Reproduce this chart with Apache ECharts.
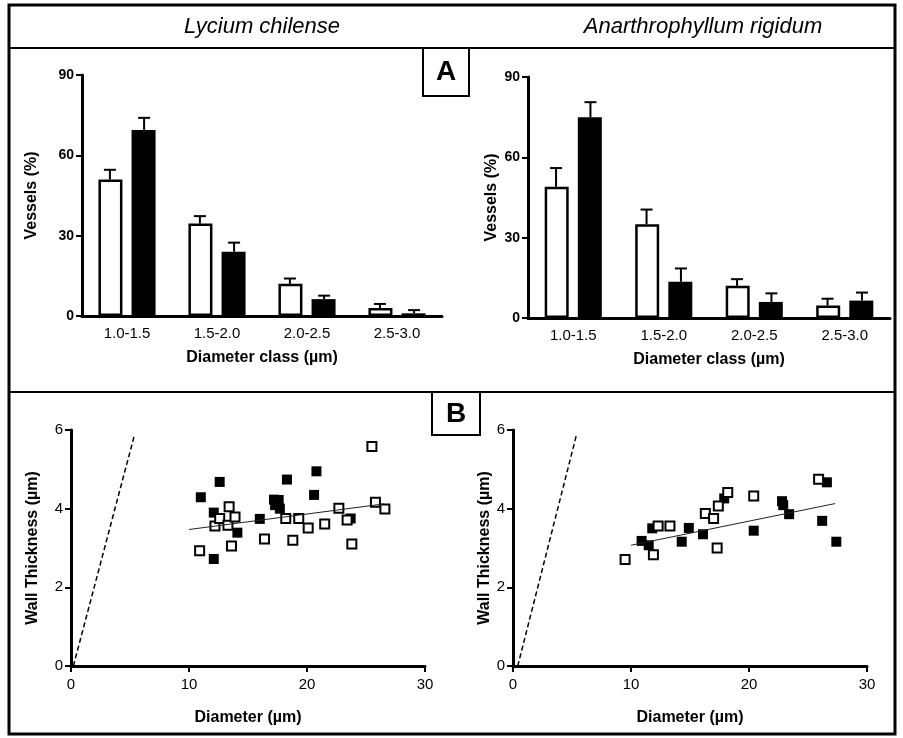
<!DOCTYPE html>
<html>
<head>
<meta charset="utf-8">
<script src="https://cdn.jsdelivr.net/npm/echarts@6/dist/echarts.min.js"></script>
<style>
  html, body { margin: 0; padding: 0; background: #fff; }
  #chart { width: 903px; height: 738px; }
</style>
</head>
<body>
<div id="chart"></div>
<script>
// diameter classes (um)
var classes = ['1.0-1.5', '1.5-2.0', '2.0-2.5', '2.5-3.0'];

// A: vessels (%) per class, open = white bars, filled = black bars
var lyciumOpen = [51, 34.5, 12, 3];
var lyciumOpenErr = [3.6, 2.8, 2.0, 1.5];
var lyciumFilled = [69.5, 24, 6.3, 1];
var lyciumFilledErr = [4.5, 3.4, 1.3, 1.2];

var anarOpen = [49, 35, 12, 4.7];
var anarOpenErr = [7, 5.5, 2.5, 2.5];
var anarFilled = [75, 13.5, 6, 6.5];
var anarFilledErr = [5.6, 5, 3.2, 3];

// B: wall thickness vs diameter
var lyciumOpenPts = [
  [10.9, 2.93], [12.2, 3.56], [12.6, 3.75], [13.3, 3.58], [13.4, 4.05],
  [13.9, 3.79], [13.6, 3.05], [16.4, 3.23], [18.2, 3.75], [18.8, 3.2],
  [19.3, 3.75], [20.1, 3.51], [21.5, 3.61], [22.7, 4.01], [23.4, 3.71],
  [23.8, 3.1], [25.5, 5.58], [25.8, 4.16], [26.6, 3.99]
];
var lyciumFilledPts = [
  [11.0, 4.29], [12.6, 4.68], [12.1, 3.9], [12.1, 2.72], [14.1, 3.39],
  [16.0, 3.74], [17.2, 4.23], [17.6, 4.22], [17.3, 4.09], [17.7, 4.0],
  [18.3, 4.74], [20.8, 4.95], [20.6, 4.35], [23.7, 3.75]
];
var anarOpenPts = [
  [9.5, 2.71], [11.9, 2.83], [12.3, 3.56], [13.3, 3.56], [16.3, 3.88],
  [17.0, 3.75], [17.3, 3.0], [17.4, 4.07], [18.2, 4.41], [20.4, 4.32],
  [25.9, 4.75]
];
var anarFilledPts = [
  [10.9, 3.18], [11.8, 3.5], [11.5, 3.07], [14.3, 3.16], [14.9, 3.51],
  [16.1, 3.35], [17.9, 4.26], [20.4, 3.44], [22.8, 4.19], [22.9, 4.09],
  [23.4, 3.86], [26.6, 4.67], [26.2, 3.69], [27.4, 3.16]
];

// reference (dashed) lines and fitted lines
var lyciumDash = [[0.2, 0], [5.4, 5.9]];
var lyciumFit = [[10, 3.47], [26.5, 4.12]];
var anarDash = [[0.4, 0], [5.4, 5.9]];
var anarFit = [[10, 3.07], [27.3, 4.13]];

var FONT = '"Liberation Sans", Arial, sans-serif';

function withErr(vals, errs) {
  return vals.map(function (v, i) { return [i, v + errs[i], v]; });
}

function errRender(shift) {
  return function (params, api) {
    var i = api.value(0);
    var top = api.coord([i, api.value(1)]);
    var base = api.coord([i, api.value(2)]);
    var bw = api.size([1, 0])[0];
    var x = top[0] + shift * bw;
    var st = { stroke: '#000', lineWidth: 2 };
    return {
      type: 'group',
      children: [
        { type: 'line', shape: { x1: x, y1: base[1], x2: x, y2: top[1] }, style: st },
        { type: 'line', shape: { x1: x - 6, y1: top[1], x2: x + 6, y2: top[1] }, style: st }
      ]
    };
  };
}

var tickStyle = { show: true, inside: false, length: 6, lineStyle: { color: '#000', width: 2 } };

function barXAxis(idx, gap) {
  return {
    type: 'category', gridIndex: idx, data: classes,
    axisLine: { show: true, lineStyle: { color: '#000', width: 3 } },
    axisTick: { show: false },
    axisLabel: { color: '#000', fontFamily: FONT, fontSize: 15, margin: 10 },
    name: 'Diameter class (\u00b5m)', nameLocation: 'middle', nameGap: gap,
    nameTextStyle: { color: '#000', fontFamily: FONT, fontSize: 16, fontWeight: 'bold' }
  };
}
function barYAxis(idx, gap) {
  return {
    type: 'value', gridIndex: idx, min: 0, max: 90, interval: 30,
    splitLine: { show: false },
    axisLine: { show: true, lineStyle: { color: '#000', width: 3 } },
    axisTick: tickStyle,
    axisLabel: { color: '#000', fontFamily: FONT, fontSize: 14, fontWeight: 'bold', margin: 8 },
    name: 'Vessels (%)', nameLocation: 'middle', nameGap: gap,
    nameTextStyle: { color: '#000', fontFamily: FONT, fontSize: 16, fontWeight: 'bold' }
  };
}
function scXAxis(idx) {
  return {
    type: 'value', gridIndex: idx, min: 0, max: 30, interval: 10,
    splitLine: { show: false },
    axisLine: { show: true, onZero: false, lineStyle: { color: '#000', width: 3 } },
    axisTick: tickStyle,
    axisLabel: { color: '#000', fontFamily: FONT, fontSize: 15, margin: 11 },
    name: 'Diameter (\u00b5m)', nameLocation: 'middle', nameGap: 44,
    nameTextStyle: { color: '#000', fontFamily: FONT, fontSize: 16, fontWeight: 'bold' }
  };
}
function scYAxis(idx, gap) {
  return {
    type: 'value', gridIndex: idx, min: 0, max: 6, interval: 2,
    splitLine: { show: false },
    axisLine: { show: true, onZero: false, lineStyle: { color: '#000', width: 3 } },
    axisTick: tickStyle,
    axisLabel: { color: '#000', fontFamily: FONT, fontSize: 15, margin: 8 },
    name: 'Wall Thickness (\u00b5m)', nameLocation: 'middle', nameGap: gap,
    nameTextStyle: { color: '#000', fontFamily: FONT, fontSize: 16, fontWeight: 'bold' }
  };
}

function bars(idx, openVals, filledVals) {
  return [
    {
      type: 'bar', xAxisIndex: idx, yAxisIndex: idx, data: openVals,
      barWidth: 24, barGap: '38%',
      itemStyle: { color: '#fff', borderColor: '#000', borderWidth: 2.5 }
    },
    {
      type: 'bar', xAxisIndex: idx, yAxisIndex: idx, data: filledVals,
      barWidth: 24, barGap: '38%',
      itemStyle: { color: '#000' }
    }
  ];
}
function errs(idx, openVals, openErr, filledVals, filledErr) {
  return [
    { type: 'custom', xAxisIndex: idx, yAxisIndex: idx, renderItem: errRender(-0.19), data: withErr(openVals, openErr), z: 1 },
    { type: 'custom', xAxisIndex: idx, yAxisIndex: idx, renderItem: errRender(0.19), data: withErr(filledVals, filledErr), z: 1 }
  ];
}
function scatter(idx, openPts, filledPts, dash, fit) {
  return [
    {
      type: 'line', xAxisIndex: idx, yAxisIndex: idx, data: dash, symbol: 'none',
      lineStyle: { color: '#000', width: 1.5, type: [5, 3] }
    },
    {
      type: 'line', xAxisIndex: idx, yAxisIndex: idx, data: fit, symbol: 'none',
      lineStyle: { color: '#222', width: 1 }
    },
    {
      type: 'scatter', xAxisIndex: idx, yAxisIndex: idx, data: filledPts,
      symbol: 'rect', symbolSize: 10, itemStyle: { color: '#000', opacity: 1 }
    },
    {
      type: 'scatter', xAxisIndex: idx, yAxisIndex: idx, data: openPts,
      symbol: 'rect', symbolSize: 9, itemStyle: { color: '#fff', borderColor: '#000', borderWidth: 2, opacity: 1 }
    }
  ];
}

var chart = echarts.init(document.getElementById('chart'));
chart.setOption({
  backgroundColor: '#fff',
  animation: false,
  grid: [
    { left: 82, top: 75, width: 360, height: 241 },
    { left: 528, top: 77, width: 362, height: 241 },
    { left: 71, top: 430, width: 354, height: 236 },
    { left: 513, top: 430, width: 354, height: 236 }
  ],
  xAxis: [barXAxis(0, 34), barXAxis(1, 34), scXAxis(2), scXAxis(3)],
  yAxis: [barYAxis(0, 42), barYAxis(1, 28), scYAxis(2, 30), scYAxis(3, 20)],
  series: []
    .concat(errs(0, lyciumOpen, lyciumOpenErr, lyciumFilled, lyciumFilledErr))
    .concat(bars(0, lyciumOpen, lyciumFilled))
    .concat(errs(1, anarOpen, anarOpenErr, anarFilled, anarFilledErr))
    .concat(bars(1, anarOpen, anarFilled))
    .concat(scatter(2, lyciumOpenPts, lyciumFilledPts, lyciumDash, lyciumFit))
    .concat(scatter(3, anarOpenPts, anarFilledPts, anarDash, anarFit)),
  graphic: [
    { type: 'rect', shape: { x: 9, y: 5, width: 886, height: 729 }, style: { fill: null, stroke: '#000', lineWidth: 3 }, z: 100 },
    { type: 'line', shape: { x1: 9, y1: 48, x2: 895, y2: 48 }, style: { stroke: '#000', lineWidth: 2 }, z: 100 },
    { type: 'line', shape: { x1: 9, y1: 392, x2: 895, y2: 392 }, style: { stroke: '#000', lineWidth: 2 }, z: 100 },
    { type: 'rect', shape: { x: 423, y: 48, width: 46, height: 48 }, style: { fill: '#fff', stroke: '#000', lineWidth: 2 }, z: 100 },
    { type: 'text', x: 446, y: 72, style: { text: 'A', fill: '#000', font: 'bold 28px ' + FONT, align: 'center', verticalAlign: 'middle' }, z: 101 },
    { type: 'rect', shape: { x: 432, y: 392, width: 48, height: 43 }, style: { fill: '#fff', stroke: '#000', lineWidth: 2 }, z: 100 },
    { type: 'text', x: 456, y: 414, style: { text: 'B', fill: '#000', font: 'bold 28px ' + FONT, align: 'center', verticalAlign: 'middle' }, z: 101 },
    { type: 'text', x: 262, y: 27, style: { text: 'Lycium chilense', fill: '#000', font: 'italic 22px ' + FONT, align: 'center', verticalAlign: 'middle' }, z: 101 },
    { type: 'text', x: 703, y: 27, style: { text: 'Anarthrophyllum rigidum', fill: '#000', font: 'italic 22px ' + FONT, align: 'center', verticalAlign: 'middle' }, z: 101 }
  ]
});
</script>
</body>
</html>
